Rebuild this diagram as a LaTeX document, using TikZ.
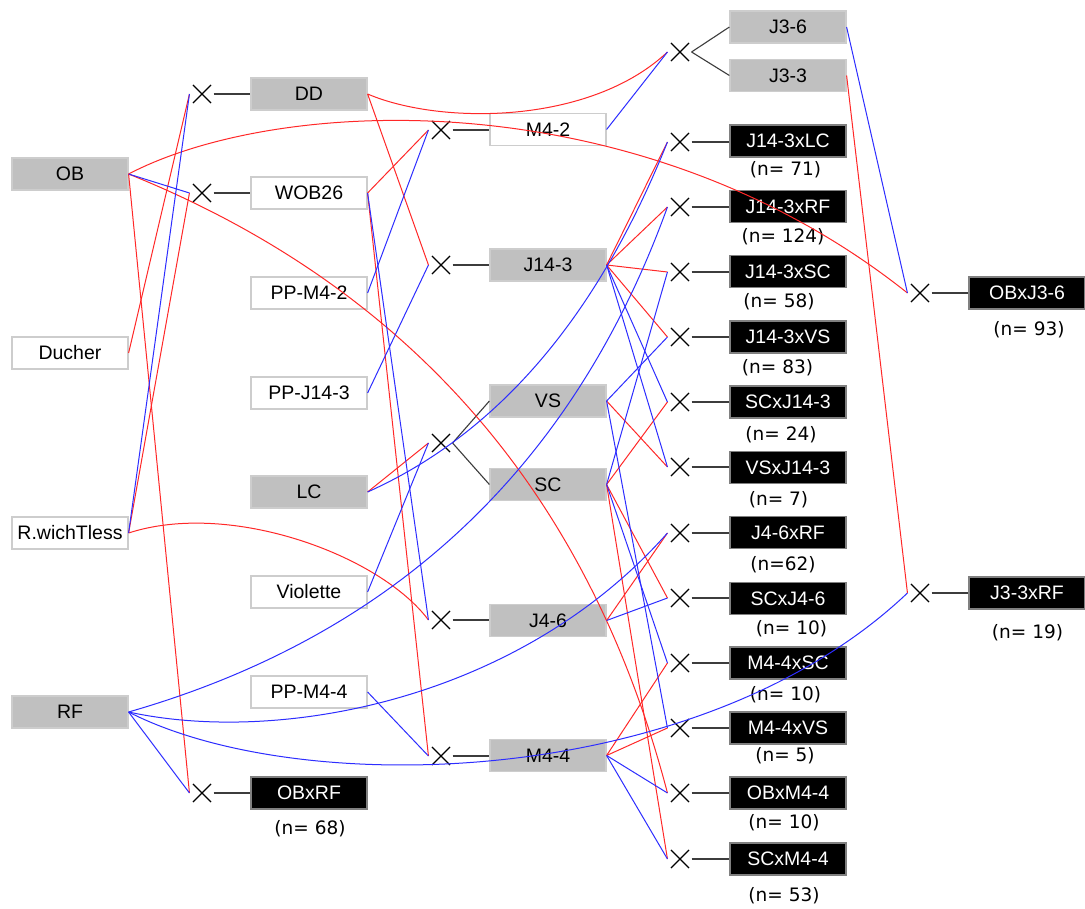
\documentclass[tikz,border=0pt]{standalone}
\usepackage{fontspec}
\setmainfont{Liberation Sans}
\newfontfamily\nfont{DejaVu Sans}
\usetikzlibrary{shapes.misc}
\definecolor{boxgray}{RGB}{192,192,192}
\definecolor{bordergray}{RGB}{205,205,205}
\definecolor{lred}{RGB}{255,40,40}
\definecolor{lblue}{RGB}{45,45,255}
\definecolor{linkgray}{RGB}{60,60,60}
\begin{document}
\begin{tikzpicture}[x=1pt,y=-1pt,
  box/.style={rectangle, minimum width=116pt, minimum height=32pt, inner sep=0pt, font=\fontsize{19.5}{20}\selectfont, line width=1.2pt},
  graybox/.style={box, fill=boxgray, draw=bordergray},
  whitebox/.style={box, fill=white, draw=bordergray},
  blackbox/.style={box, fill=black, draw=gray, text=white},
  xmark/.style={cross out, draw=black, minimum size=17pt, inner sep=0pt, line width=1.1pt},
  count/.style={font=\nfont\fontsize{18.5}{20}\selectfont, inner sep=0pt},
  mother/.style={draw=lred, line width=1pt},
  father/.style={draw=lblue, line width=1pt},
  link/.style={draw=linkgray, line width=1.1pt},
]
\useasboundingbox (0,0) rectangle (1085,909);
\fill[white] (0,0) rectangle (1085,909);

% column 1
\node[graybox]  (OB)     at (70,174) {OB};
\node[whitebox] (Ducher) at (70,353) {Ducher};
\node[whitebox] (Rw)     at (70,533) {R.wichTless};
\node[graybox]  (RF)     at (70,712) {RF};

% column 2
\node[graybox]  (DD)     at (309,94)  {DD};
\node[whitebox] (WOB)    at (309,193) {WOB26};
\node[whitebox] (PPM42)  at (309,293) {PP-M4-2};
\node[whitebox] (PPJ143) at (309,393) {PP-J14-3};
\node[graybox]  (LC)     at (309,492) {LC};
\node[whitebox] (Vio)    at (309,592) {Violette};
\node[whitebox] (PPM44)  at (309,692) {PP-M4-4};
\node[blackbox] (OBRF)   at (309,793) {OBxRF};

% column 3
\node[whitebox] (M42)  at (548,129.5) {M4-2};
\node[graybox]  (J143) at (548,265)   {J14-3};
\node[graybox]  (VS)   at (548,401)   {VS};
\node[graybox]  (SC)   at (548,484.5) {SC};
\node[graybox]  (J46)  at (548,620.5) {J4-6};
\node[graybox]  (M44)  at (548,755.5) {M4-4};

% column 4
\node[graybox]  (J36)   at (788,27)    {J3-6};
\node[graybox]  (J33)   at (788,75.5)  {J3-3};
\node[blackbox] (JLC)   at (788,141) {J14-3xLC};
\node[blackbox] (JRF)   at (788,206.5) {J14-3xRF};
\node[blackbox] (JSC)   at (788,271.5) {J14-3xSC};
\node[blackbox] (JVS)   at (788,337)   {J14-3xVS};
\node[blackbox] (SCJ)   at (788,402)   {SCxJ14-3};
\node[blackbox] (VSJ)   at (788,467.5) {VSxJ14-3};
\node[blackbox] (J46RF) at (788,532.5) {J4-6xRF};
\node[blackbox] (SCJ46) at (788,598.5) {SCxJ4-6};
\node[blackbox] (M44SC) at (788,663)   {M4-4xSC};
\node[blackbox] (M44VS) at (788,728)   {M4-4xVS};
\node[blackbox] (OBM44) at (788,793)   {OBxM4-4};
\node[blackbox] (SCM44) at (788,859)   {SCxM4-4};

% column 5
\node[blackbox] (OBJ36) at (1027,293) {OBxJ3-6};
\node[blackbox] (J33RF) at (1027,593) {J3-3xRF};

% counts
\node[count] (nOBRF)  at (310,829)   {(n= 68)};
\node[count] (nJLC)   at (785.5,170) {(n= 71)};
\node[count] (nJRF)   at (783,237)   {(n= 124)};
\node[count] (nJSC)   at (779,302)   {(n= 58)};
\node[count] (nJVS)   at (777.5,368) {(n= 83)};
\node[count] (nSCJ)   at (781,435)   {(n= 24)};
\node[count] (nVSJ)   at (778.5,500) {(n= 7)};
\node[count] (nJ46RF) at (783,565)   {(n=62)};
\node[count] (nSCJ46) at (791.5,629) {(n= 10)};
\node[count] (nM44SC) at (785.5,695) {(n= 10)};
\node[count] (nM44VS) at (785,756)   {(n= 5)};
\node[count] (nOBM44) at (784,823)   {(n= 10)};
\node[count] (nSCM44) at (784,896)   {(n= 53)};
\node[count] (nOBJ36) at (1029,330)  {(n= 93)};
\node[count] (nJ33RF) at (1027.5,633) {(n= 19)};

% crosses
\node[xmark] (xDD)    at (202,94)  {};
\node[xmark] (xWOB)   at (202,193) {};
\node[xmark] (xOBRF)  at (202,793) {};
\node[xmark] (xM42)   at (441,130) {};
\node[xmark] (xJ143)  at (441,265) {};
\node[xmark] (xVSSC)  at (441,443) {};
\node[xmark] (xJ46)   at (441,620) {};
\node[xmark] (xM44)   at (441,756) {};
\node[xmark] (xJ3)    at (680,52)  {};
\node[xmark] (xJLC)   at (680,142) {};
\node[xmark] (xJRF)   at (680,207) {};
\node[xmark] (xJSC)   at (680,272) {};
\node[xmark] (xJVS)   at (680,337) {};
\node[xmark] (xSCJ)   at (680,402) {};
\node[xmark] (xVSJ)   at (680,467) {};
\node[xmark] (xJ46RF) at (680,533) {};
\node[xmark] (xSCJ46) at (680,598) {};
\node[xmark] (xM44SC) at (680,663) {};
\node[xmark] (xM44VS) at (680,728) {};
\node[xmark] (xOBM44) at (680,793) {};
\node[xmark] (xSCM44) at (680,859) {};
\node[xmark] (xOBJ36) at (920,293) {};
\node[xmark] (xJ33RF) at (920,593) {};

\foreach \n in {xDD,xWOB,xOBRF,xM42,xJ143,xVSSC,xJ46,xM44,xJ3,xJLC,xJRF,xJSC,xJVS,xSCJ,xVSJ,xJ46RF,xSCJ46,xM44SC,xM44VS,xOBM44,xSCM44,xOBJ36,xJ33RF}{
  \coordinate (\n-in) at ([xshift=-3.5pt]\n.west);
  \coordinate (\n-out) at ([xshift=2.5pt]\n.east);
}

% cross to offspring
\draw[link] (xDD-out) -- (xDD-out -| DD.west);
\draw[link] (xWOB-out) -- (xWOB-out -| WOB.west);
\draw[link] (xOBRF-out) -- (xOBRF-out -| OBRF.west);
\draw[link] (xM42-out) -- (xM42-out -| M42.west);
\draw[link] (xJ143-out) -- (xJ143-out -| J143.west);
\draw[link] (xVSSC-out) -- (VS.west);
\draw[link] (xVSSC-out) -- (SC.west);
\draw[link] (xJ46-out) -- (xJ46-out -| J46.west);
\draw[link] (xM44-out) -- (xM44-out -| M44.west);
\draw[link] (xJ3-out) -- (J36.west);
\draw[link] (xJ3-out) -- (J33.west);
\draw[link] (xJLC-out) -- (xJLC-out -| JLC.west);
\draw[link] (xJRF-out) -- (xJRF-out -| JRF.west);
\draw[link] (xJSC-out) -- (xJSC-out -| JSC.west);
\draw[link] (xJVS-out) -- (xJVS-out -| JVS.west);
\draw[link] (xSCJ-out) -- (xSCJ-out -| SCJ.west);
\draw[link] (xVSJ-out) -- (xVSJ-out -| VSJ.west);
\draw[link] (xJ46RF-out) -- (xJ46RF-out -| J46RF.west);
\draw[link] (xSCJ46-out) -- (xSCJ46-out -| SCJ46.west);
\draw[link] (xM44SC-out) -- (xM44SC-out -| M44SC.west);
\draw[link] (xM44VS-out) -- (xM44VS-out -| M44VS.west);
\draw[link] (xOBM44-out) -- (xOBM44-out -| OBM44.west);
\draw[link] (xSCM44-out) -- (xSCM44-out -| SCM44.west);
\draw[link] (xOBJ36-out) -- (xOBJ36-out -| OBJ36.west);
\draw[link] (xJ33RF-out) -- (xJ33RF-out -| J33RF.west);

% mothers (red)
\draw[mother] (Ducher.east) -- (xDD-in);
\draw[mother] (Rw.east) -- (xWOB-in);
\draw[mother] (OB.east) -- (xOBRF-in);
\draw[mother] (WOB.east) -- (xM42-in);
\draw[mother] (DD.east) -- (xJ143-in);
\draw[mother] (LC.east) -- (xVSSC-in);
\draw[mother] (WOB.east) -- (xM44-in);
\draw[mother] (J143.east) -- (xJLC-in);
\draw[mother] (J143.east) -- (xJRF-in);
\draw[mother] (J143.east) -- (xJSC-in);
\draw[mother] (J143.east) -- (xJVS-in);
\draw[mother] (SC.east) -- (xSCJ-in);
\draw[mother] (SC.east) -- (xSCJ46-in);
\draw[mother] (SC.east) -- (xSCM44-in);
\draw[mother] (VS.east) -- (xVSJ-in);
\draw[mother] (J46.east) -- (xJ46RF-in);
\draw[mother] (M44.east) -- (xM44SC-in);
\draw[mother] (M44.east) -- (xM44VS-in);
\draw[mother] (J33.east) -- (xJ33RF-in);
\draw[mother] (DD.east) .. controls (440,125) and (590,125) .. (xJ3-in);
\draw[mother] (OB.east) .. controls (280,95) and (640,80) .. (xOBJ36-in);
\draw[mother] (OB.east) .. controls (409,287) and (589,493) .. (xOBM44-in);
\draw[mother] (Rw.east) .. controls (230,500) and (380,555) .. (xJ46-in);

% fathers (blue)
\draw[father] (Rw.east) -- (xDD-in);
\draw[father] (OB.east) -- (xWOB-in);
\draw[father] (RF.east) -- (xOBRF-in);
\draw[father] (PPM42.east) -- (xM42-in);
\draw[father] (PPJ143.east) -- (xJ143-in);
\draw[father] (Vio.east) -- (xVSSC-in);
\draw[father] (WOB.east) -- (xJ46-in);
\draw[father] (PPM44.east) -- (xM44-in);
\draw[father] (M42.east) -- (xJ3-in);
\draw[father] (J143.east) -- (xSCJ-in);
\draw[father] (J143.east) -- (xVSJ-in);
\draw[father] (VS.east) -- (xJVS-in);
\draw[father] (VS.east) -- (xM44VS-in);
\draw[father] (SC.east) -- (xJSC-in);
\draw[father] (SC.east) -- (xM44SC-in);
\draw[father] (J46.east) -- (xSCJ46-in);
\draw[father] (M44.east) -- (xOBM44-in);
\draw[father] (M44.east) -- (xSCM44-in);
\draw[father] (J36.east) -- (xOBJ36-in);
\draw[father] (LC.east) .. controls (497,434) and (597,318) .. (xJLC-in);
\draw[father] (RF.east) .. controls (393,636) and (573,468) .. (xJRF-in);
\draw[father] (RF.east) .. controls (280,745) and (520,700) .. (xJ46RF-in);
\draw[father] (RF.east) .. controls (300,800) and (700,790) .. (xJ33RF-in);
\end{tikzpicture}
\end{document}
